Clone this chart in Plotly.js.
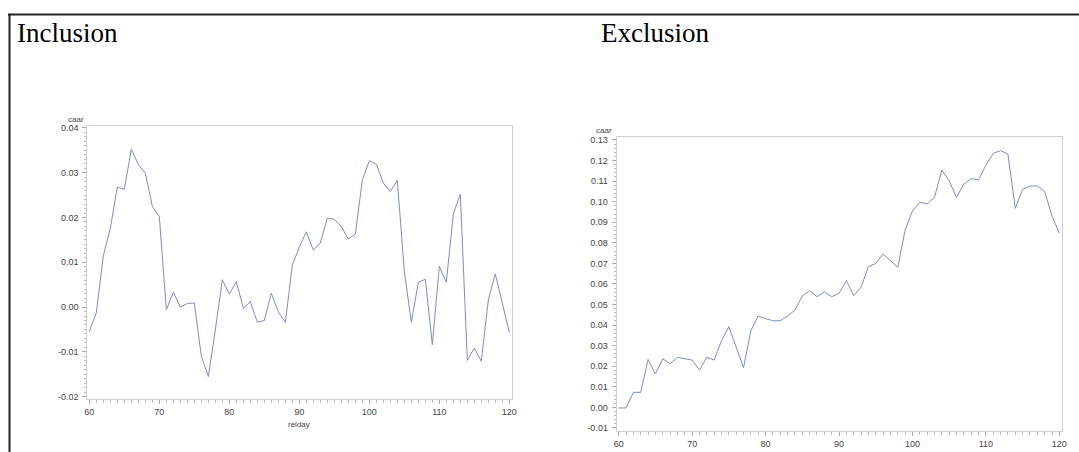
<!DOCTYPE html>
<html>
<head>
<meta charset="utf-8">
<script src="https://cdn.plot.ly/plotly-3.0.1.min.js"></script>
<style>html,body{margin:0;padding:0;background:#fff;}#chart{width:1079px;height:452px;}</style>
</head>
<body>
<div id="chart"></div>
<script>
const relday = [60,61,62,63,64,65,66,67,68,69,70,71,72,73,74,75,76,77,78,79,80,81,82,83,84,85,86,87,88,89,90,91,92,93,94,95,96,97,98,99,100,101,102,103,104,105,106,107,108,109,110,111,112,113,114,115,116,117,118,119,120];
const caarInclusion = [-0.0054,-0.0013,0.0115,0.0176,0.0268,0.0263,0.0353,0.0318,0.0299,0.0225,0.0202,-0.0006,0.0033,0.0000,0.0008,0.0009,-0.0110,-0.0155,-0.0051,0.0061,0.0029,0.0057,-0.0003,0.0012,-0.0034,-0.0030,0.0031,-0.0011,-0.0034,0.0094,0.0134,0.0168,0.0127,0.0143,0.0199,0.0196,0.0180,0.0152,0.0163,0.0283,0.0327,0.0319,0.0277,0.0258,0.0283,0.0080,-0.0034,0.0055,0.0062,-0.0084,0.0091,0.0055,0.0208,0.0252,-0.0119,-0.0092,-0.0121,0.0016,0.0074,0.0009,-0.0057];
const caarExclusion = [-0.0003,-0.0003,0.0073,0.0073,0.0233,0.0162,0.0236,0.0212,0.0243,0.0238,0.0230,0.0181,0.0243,0.0230,0.0324,0.0392,0.0293,0.0193,0.0373,0.0444,0.0431,0.0421,0.0421,0.0444,0.0473,0.0541,0.0567,0.0538,0.0561,0.0538,0.0554,0.0616,0.0543,0.0584,0.0684,0.0700,0.0746,0.0713,0.0681,0.0862,0.0955,0.0997,0.0989,0.1021,0.1154,0.1101,0.1021,0.1086,0.1112,0.1106,0.1178,0.1235,0.1248,0.1231,0.0968,0.1060,0.1076,0.1076,0.1049,0.0930,0.0846];
const panelTitles = ["Inclusion", "Exclusion"];
const xTickVals = [60,70,80,90,100,110,120];
const yTickInclusion = [-0.02,-0.01,0.00,0.01,0.02,0.03,0.04];
const yTickExclusion = [-0.01,0.00,0.01,0.02,0.03,0.04,0.05,0.06,0.07,0.08,0.09,0.10,0.11,0.12,0.13];

const W = 1079, H = 452;
const px = v => v / W;
const py = v => 1 - v / H;

const lineColor = '#7f8cc0';
const tickFont = {family: 'Liberation Sans, Arial, sans-serif', size: 9, color: '#444'};
const axisBase = {
  showline: true, mirror: true, linecolor: '#cfcfcf', linewidth: 1,
  showgrid: false, zeroline: false, ticks: 'outside', ticklen: 4, tickcolor: '#aaa', tickwidth: 1,
  tickfont: tickFont, fixedrange: true
};

const traces = [
  {x: relday, y: caarInclusion, type: 'scatter', mode: 'lines', line: {color: lineColor, width: 1}, xaxis: 'x', yaxis: 'y', hoverinfo: 'skip'},
  {x: relday, y: caarExclusion, type: 'scatter', mode: 'lines', line: {color: lineColor, width: 1}, xaxis: 'x2', yaxis: 'y2', hoverinfo: 'skip'}
];

const layout = {
  width: W, height: H,
  margin: {l: 0, r: 0, t: 0, b: 0},
  paper_bgcolor: '#fff', plot_bgcolor: '#fff',
  showlegend: false,
  xaxis: Object.assign({}, axisBase, {
    domain: [px(87.3), px(511.7)], range: [59.71, 120.34], anchor: 'y',
    tickvals: xTickVals, ticktext: xTickVals.map(String),
    minor: {dtick: 1, tick0: 60, ticks: 'outside', ticklen: 3, tickcolor: '#bbb', showgrid: false}
  }),
  yaxis: Object.assign({}, axisBase, {
    domain: [py(399.3), py(125.7)], range: [-0.0206, 0.0405], anchor: 'x', ticklabelstandoff: 2,
    tickvals: yTickInclusion, ticktext: yTickInclusion.map(v => v.toFixed(2)),
    minor: {dtick: 0.001, tick0: 0, ticks: 'outside', ticklen: 2, tickcolor: '#bbb', showgrid: false}
  }),
  xaxis2: Object.assign({}, axisBase, {
    domain: [px(616.7), px(1061.7)], range: [59.73, 120.32], anchor: 'y2',
    tickvals: xTickVals, ticktext: xTickVals.map(String),
    minor: {dtick: 1, tick0: 60, ticks: 'outside', ticklen: 3, tickcolor: '#bbb', showgrid: false}
  }),
  yaxis2: Object.assign({}, axisBase, {
    domain: [py(431), py(137.3)], range: [-0.0115, 0.1313], anchor: 'x2', ticklabelstandoff: 2,
    tickvals: yTickExclusion, ticktext: yTickExclusion.map(v => v.toFixed(2)),
    minor: {dtick: 0.002, tick0: 0, ticks: 'outside', ticklen: 2, tickcolor: '#bbb', showgrid: false}
  }),
  shapes: [
    {type: 'line', xref: 'paper', yref: 'paper', x0: px(8), x1: 1, y0: py(14.5), y1: py(14.5), line: {color: '#222', width: 2}},
    {type: 'line', xref: 'paper', yref: 'paper', x0: px(9.5), x1: px(9.5), y0: py(14), y1: 0, line: {color: '#222', width: 2}}
  ],
  annotations: [
    {text: panelTitles[0], xref: 'paper', yref: 'paper', x: px(15), y: py(16), xanchor: 'left', yanchor: 'top', showarrow: false,
     font: {family: 'Liberation Serif, Times New Roman, serif', size: 27, color: '#000'}},
    {text: panelTitles[1], xref: 'paper', yref: 'paper', x: px(599), y: py(16), xanchor: 'left', yanchor: 'top', showarrow: false,
     font: {family: 'Liberation Serif, Times New Roman, serif', size: 27, color: '#000'}},
    {text: 'caar', xref: 'paper', yref: 'paper', x: px(76), y: py(119.5), xanchor: 'center', yanchor: 'middle', showarrow: false,
     font: {family: 'Liberation Sans, Arial, sans-serif', size: 8, color: '#444'}},
    {text: 'caar', xref: 'paper', yref: 'paper', x: px(604.3), y: py(130.5), xanchor: 'center', yanchor: 'middle', showarrow: false,
     font: {family: 'Liberation Sans, Arial, sans-serif', size: 8, color: '#444'}},
    {text: 'relday', xref: 'paper', yref: 'paper', x: px(299), y: py(424), xanchor: 'center', yanchor: 'middle', showarrow: false,
     font: {family: 'Liberation Sans, Arial, sans-serif', size: 8, color: '#444'}}
  ]
};

Plotly.newPlot('chart', traces, layout, {staticPlot: true, displayModeBar: false});
</script>
</body>
</html>
